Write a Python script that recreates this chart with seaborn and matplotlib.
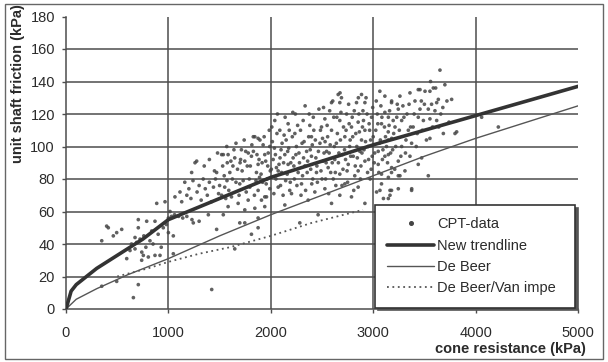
import matplotlib
matplotlib.use("Agg")
import matplotlib.pyplot as plt
import seaborn as sns
import pandas as pd
from matplotlib.patches import Rectangle
from matplotlib.lines import Line2D

# ---------------- data ----------------
cpt_qc = [
    349, 397, 413, 462, 495, 544, 593, 625, 658, 674, 674, 706, 706, 706, 723, 740, 755, 739, 788, 804,
    837, 869, 869, 886, 918, 950, 967, 1016, 1048, 1048, 1064, 495, 349, 1423,
    640, 690, 760, 780, 820, 850, 900, 930, 980, 1000,
    1000, 1030, 1060, 1100, 1140, 1180, 1230, 1243, 1390, 1536, 1471, 1300,
    1113, 1130, 1160, 1180, 1200, 1220, 1227, 1240, 1260, 1276, 1280, 1300, 1320, 1340, 1360, 1380, 1400, 1420,
    1440, 1460, 1471, 1490, 1500, 1520, 1536, 1550, 1560, 1572, 1583, 1583, 1600, 1616, 1630, 1648, 1648, 1660,
    1681, 1697, 1697, 1713, 1720, 1746, 1746, 1746, 1760, 1779, 1790, 1811, 1811, 1829, 1844, 1844, 1860, 1876,
    1876, 1876, 1876, 1876, 1894, 1909, 1920, 1941, 1941, 1941, 1958, 1970, 1990, 1990,
    2023, 2039, 2050, 2072, 2072, 2088, 2100, 2120, 2137, 2137, 2150, 2169, 2169, 2190, 2202, 2218, 2235, 2250,
    2267, 2283, 2300, 2316, 2332, 2350, 2365, 2381, 2397, 2397, 2410, 2430, 2446, 2462, 2480, 2495, 2511, 2528,
    2528, 2545, 2560, 2575, 2593, 2593, 2593, 2610, 2625, 2640, 2658, 2674, 2674, 2674, 2674, 2676, 2700, 2723,
    2723, 2740, 2756, 2770, 2788, 2788, 2805, 2820, 2837, 2853, 2853, 2853, 2870, 2886, 2886, 2900, 2919, 2919,
    2919, 2919, 2950, 2970, 2984, 2990,
    3033, 3049, 3049, 3065, 3066, 3081, 3081, 3081, 3100, 3114, 3114, 3114, 3147, 3147, 3148, 3148, 3148, 3148,
    3164, 3164, 3179, 3179, 3179, 3180, 3180, 3180, 3195, 3213, 3245, 3245, 3245, 3245, 3261, 3261, 3278, 3278,
    3310, 3343, 3359, 3359, 3375, 3375, 3376, 3408, 3440, 3440, 3440, 3457, 3457, 3473, 3506, 3538, 3538, 3554,
    3554, 3554, 3587, 3603, 3620, 3620, 3636, 3652, 3685, 3766, 3799, 3815, 4059, 4222,
    1800, 1830, 1855, 1885, 1905, 1925, 1950, 1965, 1985, 2005, 2015, 2030, 2045, 2060, 2080, 2095, 2110, 2125,
    2140, 2160, 2175, 2185, 2210, 2225, 2240, 2255, 2275, 2290, 2310, 2325, 2340, 2360, 2375, 2390, 2405, 2420,
    2440, 2455, 2470, 2490, 2505, 2520, 2535, 2550, 2565, 2580, 2600, 2615, 2630, 2650, 2665, 2685, 2695, 2710,
    2730, 2745, 2760, 2775, 2795, 2810, 2830, 2845, 2860, 2880, 2895, 2910, 2930, 2945, 2960, 2975, 2995, 3010,
    3025, 3040, 3060, 3075, 3090, 3110, 3130, 3160, 3190, 3210, 3230, 3290, 3320, 3330, 3390, 3420, 3480, 3500,
    3560, 3580, 3660, 3700, 3740,
    1350, 1400, 1450, 1480, 1530, 1570, 1610, 1660, 1700, 1740, 1780,
    1520, 1545, 1575, 1590, 1625, 1640, 1675, 1690, 1705, 1730, 1755, 1770, 1795, 1815, 1840, 1865, 1890, 1915,
    1935, 1955, 1975, 1995, 2010, 2035, 2055, 2065, 2090, 2105, 2130, 2145, 2165, 2180, 2195, 2215, 2230, 2245,
    2262, 2280, 2295, 2305, 2320, 2335, 2355, 2370, 2385, 2400, 2415, 2435, 2450, 2465, 2485, 2500, 2515, 2530,
    2540, 2555, 2570, 2585, 2605, 2620, 2635, 2645, 2660, 2680, 2690, 2705, 2720, 2735, 2750, 2765, 2780, 2800,
    2815, 2825, 2840, 2855, 2865, 2875, 2890, 2905, 2925, 2940, 2955, 2965, 2980, 3000, 3015, 3030, 3045, 3055,
    3070, 3085, 3095, 3120, 3140, 3155, 3170, 3200, 3220, 3235, 3255, 3270, 3300, 3315, 3350, 3365, 3400, 3430,
    3470, 3490, 3520, 3570, 3610, 3640, 3680, 3720,
]
cpt_fs = [
    42, 51, 50, 45, 47, 49, 31, 36, 7, 44, 37, 55, 50, 15, 43, 35, 33, 30, 54, 32,
    48, 54, 33, 65, 33, 50, 66, 60, 45, 34, 69, 17, 14, 12,
    40, 41, 45, 38, 42, 40, 46, 38, 52, 47,
    56, 57, 58, 57, 56, 57, 55, 53, 58, 58, 49, 54,
    72, 66, 78, 70, 74, 68, 84, 79, 90, 91, 72, 76, 67, 80, 74, 70, 78, 66,
    75, 80, 84, 71, 76, 95, 95, 75, 68, 79, 95, 63, 84, 69, 88, 93, 37, 78,
    65, 77, 53, 98, 85, 91, 61, 53, 72, 67, 80, 94, 46, 106, 106, 62, 84, 89,
    73, 105, 56, 50, 104, 67, 78, 95, 69, 63, 69, 88, 100, 74,
    92, 116, 80, 85, 75, 110, 98, 70, 95, 64, 104, 89, 114, 78, 71, 93, 108, 100,
    84, 53, 77, 116, 88, 97, 67, 113, 94, 106, 80, 72, 84, 58, 102, 112, 91, 117,
    74, 97, 87, 122, 110, 65, 127, 80, 92, 102, 132, 116, 83, 70, 127, 133, 95, 106,
    77, 120, 89, 100, 112, 69, 94, 82, 127, 115, 85, 75, 97, 104, 132, 122, 110, 91,
    65, 127, 100, 80, 118, 94,
    72, 97, 89, 134, 73, 114, 83, 77, 68, 131, 121, 94, 109, 104, 118, 95, 81, 68,
    73, 70, 127, 84, 73, 128, 105, 87, 116, 112, 123, 91, 82, 74, 131, 82, 116, 100,
    85, 110, 133, 94, 102, 73, 74, 128, 135, 118, 89, 123, 135, 93, 134, 123, 82, 134,
    117, 105, 136, 122, 127, 116, 129, 147, 108, 129, 108, 109, 118, 112,
    88, 97, 79, 92, 83, 101, 91, 80, 110, 86, 103, 71, 95, 108, 89, 76, 102, 90,
    118, 83, 99, 73, 106, 88, 120, 76, 96, 110, 82, 103, 73, 91, 120, 86, 101, 110,
    93, 78, 123, 85, 105, 96, 80, 113, 71, 101, 90, 118, 84, 108, 96, 121, 76, 112,
    92, 85, 126, 104, 118, 73, 108, 93, 120, 88, 112, 98, 130, 84, 114, 104, 124, 90,
    110, 120, 102, 125, 92, 112, 100, 122, 98, 86, 118, 125, 104, 120, 112, 100, 110, 126,
    140, 112, 120, 138, 115,
    88, 92, 85, 96, 88, 100, 91, 102, 90, 104, 96,
    70, 82, 90, 73, 80, 98, 86, 70, 92, 79, 97, 88, 75, 101, 70, 95, 81, 90,
    106, 77, 96, 85, 112, 99, 87, 120, 93, 84, 107, 79, 97, 110, 90, 121, 80, 95,
    113, 90, 70, 102, 93, 125, 84, 106, 98, 77, 118, 104, 88, 97, 110, 80, 124, 103,
    90, 106, 96, 84, 128, 100, 76, 118, 90, 104, 130, 86, 98, 110, 78, 114, 94, 106,
    122, 88, 100, 130, 109, 80, 96, 116, 103, 120, 92, 110, 86, 106, 96, 128, 114, 84,
    104, 118, 98, 106, 90, 113, 96, 108, 100, 126, 110, 94, 118, 96, 126, 112, 120, 108,
    128, 116, 104, 126, 136, 112, 124, 128,
]

trend_qc = [0, 50, 100, 200, 300, 500, 750, 1000, 1500, 2000, 2500, 3000, 3500, 4000, 4500, 5000]
trend_fs = [0, 11, 15, 20, 25, 33, 43, 55, 68, 81, 91, 101, 110, 119, 128, 137]

debeer_qc = [0, 100, 300, 600, 1000, 1500, 2000, 2500, 3000, 3500, 4000, 4500, 5000]
debeer_fs = [0, 6, 12.5, 21, 31, 45, 58, 70, 82, 94, 105, 115, 125]

vanimpe_qc = [500, 800, 1000, 1300, 1600, 2000, 2400, 2900]
vanimpe_fs = [20, 25, 29, 34, 38, 45, 53, 61]

x_ticks = [0, 1000, 2000, 3000, 4000, 5000]
y_ticks = [0, 20, 40, 60, 80, 100, 120, 140, 160, 180]

labels = ["CPT-data", "New trendline", "De Beer", "De Beer/Van impe"]
x_label = "cone resistance (kPa)"
y_label = "unit shaft friction (kPa)"

# ---------------- plot ----------------
sns.set_theme(style="white")
plt.rcParams["font.family"] = ["Liberation Sans", "DejaVu Sans"]

W, H = 608, 362
fig = plt.figure(figsize=(W / 100, H / 100), dpi=100)
ax = fig.add_axes([66 / W, 1 - 309 / H, (578 - 66) / W, (309 - 16.5) / H])

ink = "#2b2b2b"
grid_c = "#4d4d4d"

cpt = pd.DataFrame({"qc": cpt_qc, "fs": cpt_fs})
sns.scatterplot(data=cpt, x="qc", y="fs", ax=ax, s=7, color="#454545", edgecolor="none",
                alpha=0.85, marker="o", zorder=3, legend=False)

tr = pd.DataFrame({"qc": trend_qc, "fs": trend_fs})
sns.lineplot(data=tr, x="qc", y="fs", ax=ax, color="#333333", lw=2.6, sort=False,
             estimator=None, zorder=5)
db = pd.DataFrame({"qc": debeer_qc, "fs": debeer_fs})
sns.lineplot(data=db, x="qc", y="fs", ax=ax, color="#555555", lw=1.0, sort=False,
             estimator=None, zorder=4)
vi = pd.DataFrame({"qc": vanimpe_qc, "fs": vanimpe_fs})
sns.lineplot(data=vi, x="qc", y="fs", ax=ax, color="#555555", lw=1.3, ls=(0, (1, 2)),
             sort=False, estimator=None, zorder=4)

ax.set_xlim(0, 5000)
ax.set_ylim(0, 180)
ax.set_xticks(x_ticks)
ax.set_yticks(y_ticks)
ax.set_xticklabels([str(v) for v in x_ticks])
ax.set_yticklabels([str(v) for v in y_ticks])

ax.grid(True, color=grid_c, lw=1.1)
ax.xaxis.get_gridlines()[-1].set_visible(False)
ax.xaxis.get_gridlines()[0].set_visible(False)
ax.yaxis.get_gridlines()[-1].set_visible(False)
ax.yaxis.get_gridlines()[0].set_visible(False)
ax.set_axisbelow(True)

for s in ["top", "right"]:
    ax.spines[s].set_visible(False)
for s in ["left", "bottom"]:
    ax.spines[s].set_color(grid_c)
    ax.spines[s].set_linewidth(1.1)

ax.tick_params(axis="both", which="major", direction="out", length=3, width=1,
               color=grid_c, labelsize=10.5, labelcolor=ink, bottom=True, left=True)
ax.tick_params(axis="x", pad=9)
ax.tick_params(axis="y", pad=5)

ax.set_xlabel("")
ax.set_ylabel("")
fig.text(586 / W, 1 - 349 / H, x_label, ha="right", va="center", fontsize=10.5,
         fontweight="bold", color=ink)
fig.text(18 / W, 1 - 84 / H, y_label, ha="center", va="center", rotation=90,
         fontsize=10.5, fontweight="bold", color=ink)

handles = [
    Line2D([], [], ls="none", marker="o", ms=2.6, color="#444444"),
    Line2D([], [], color="#333333", lw=2.6),
    Line2D([], [], color="#555555", lw=1.0),
    Line2D([], [], color="#555555", lw=1.3, ls=(0, (1, 2))),
]
leg = ax.legend(handles, labels, loc="upper left",
                bbox_to_anchor=(375 / 512 - 66 / 512, (309 - 205) / 292.5,
                                200 / 512, 0.0),
                mode="expand", borderaxespad=0, fontsize=10.5, frameon=True,
                fancybox=False, shadow={"color": "#555555", "alpha": 1.0},
                handlelength=3.2, handletextpad=0.2, labelspacing=0.5,
                borderpad=0.85, labelcolor=ink)
leg.get_frame().set_edgecolor("#333333")
leg.get_frame().set_linewidth(1.2)
leg.get_frame().set_facecolor("white")
leg.set_zorder(10)

# scanned page border
fig.patches.append(Rectangle((5 / W, 1 - 359 / H), (603 - 5) / W, (359 - 4) / H,
                             transform=fig.transFigure, fill=False,
                             edgecolor="#666666", lw=1.0))

fig.savefig("out.png", dpi=100, facecolor="white")
